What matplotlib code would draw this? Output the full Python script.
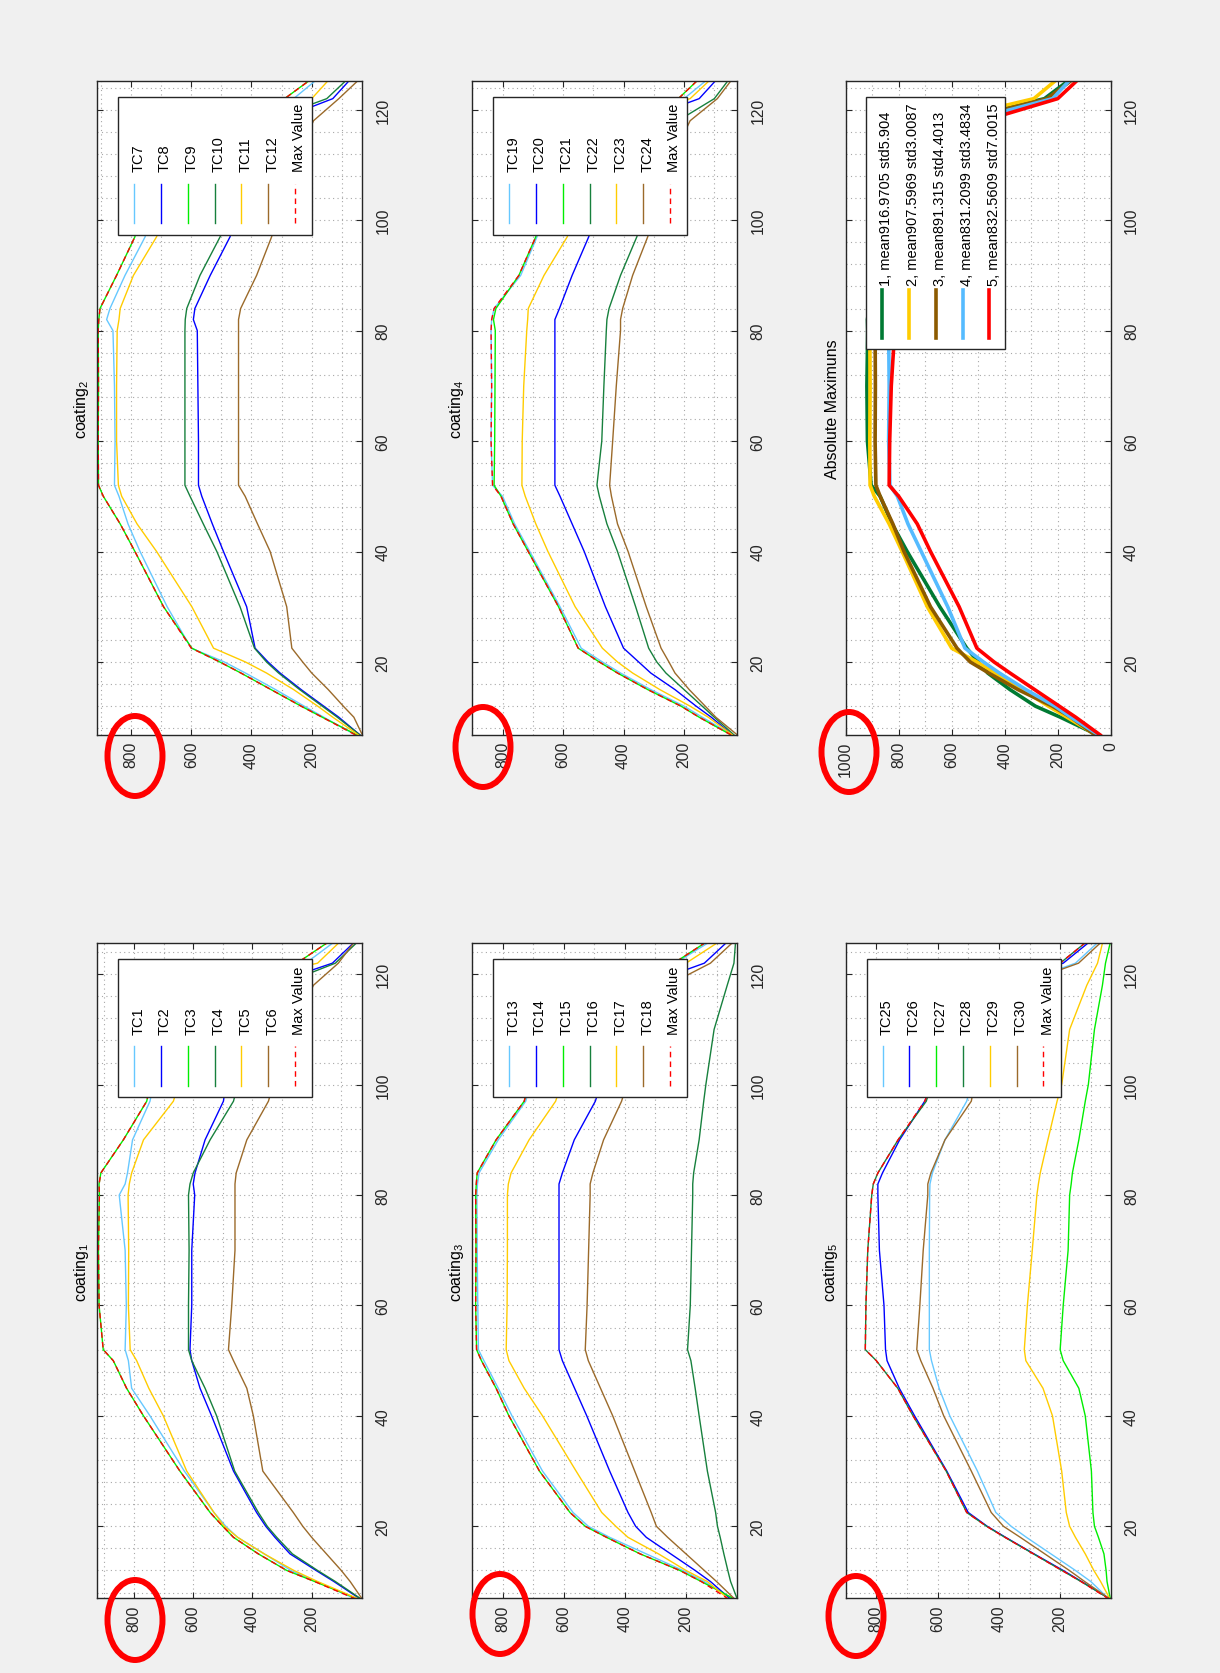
import numpy as np
import matplotlib
matplotlib.use("Agg")
import matplotlib.pyplot as plt
from matplotlib.patches import Ellipse, Rectangle

plt.rcParams['font.family'] = ['Liberation Sans', 'DejaVu Sans']
plt.rcParams['mathtext.default'] = 'regular'

W, H = 1220, 1674

# time (min), shared by every thermocouple trace
t = [6.8, 10, 12, 15, 18, 20, 22.5, 30, 40, 45, 50, 52, 60, 70, 80, 82, 84, 90, 97, 100, 110, 118, 122, 125.6]

# coating 1
tc1 = [50, 185, 270, 360, 450, 490, 530, 630, 746, 808, 819, 830, 826, 830, 850, 830, 822, 805, 746, 735, 670, 600, 220, 130]
tc2 = [35, 125, 185, 273, 324, 355, 386, 464, 538, 577, 605, 611, 605, 605, 595, 600, 594, 560, 498, 490, 420, 350, 130, 60]
tc3 = [42, 190, 284, 380, 464, 500, 543, 645, 768, 825, 870, 904, 918, 920, 917, 918, 912, 836, 757, 745, 680, 600, 250, 150]
tc4 = [32, 120, 180, 265, 318, 350, 380, 460, 521, 560, 605, 616, 616, 614, 616, 611, 600, 543, 464, 450, 380, 310, 120, 50]
tc5 = [40, 180, 260, 360, 450, 495, 530, 622, 701, 750, 791, 813, 819, 818, 820, 816, 808, 768, 667, 650, 580, 510, 180, 110]
tc6 = [29, 70, 100, 150, 200, 230, 262, 365, 397, 419, 464, 481, 470, 459, 459, 459, 455, 419, 346, 330, 265, 194, 110, 59]

# coating 2
tc7 = [55, 160, 225, 320, 420, 490, 600, 680, 770, 810, 840, 855, 853, 855, 860, 881, 870, 820, 753, 748, 690, 620, 260, 180]
tc8 = [40, 110, 160, 235, 305, 345, 388, 416, 493, 530, 565, 576, 576, 578, 580, 593, 588, 537, 471, 460, 390, 320, 130, 70]
tc9 = [50, 165, 235, 335, 435, 505, 598, 692, 787, 836, 892, 908, 909, 908, 909, 907, 903, 848, 787, 781, 720, 640, 290, 200]
tc10 = [40, 115, 165, 240, 310, 350, 390, 438, 515, 560, 604, 621, 621, 621, 621, 620, 615, 571, 504, 490, 420, 350, 150, 80]
tc11 = [45, 130, 180, 260, 350, 420, 526, 598, 715, 780, 831, 842, 848, 848, 846, 840, 836, 792, 715, 700, 620, 560, 200, 140]
tc12 = [32, 60, 95, 145, 200, 230, 266, 283, 338, 380, 421, 443, 443, 443, 443, 443, 436, 383, 333, 320, 260, 194, 110, 40]

# coating 3
tc13 = [45, 140, 210, 330, 450, 520, 570, 670, 770, 815, 862, 880, 882, 884, 885, 883, 878, 815, 725, 710, 635, 565, 235, 130]
tc14 = [54, 120, 170, 250, 330, 365, 390, 450, 525, 565, 605, 616, 616, 616, 616, 616, 605, 566, 497, 480, 410, 340, 140, 70]
tc15 = [40, 150, 220, 350, 460, 530, 580, 680, 780, 822, 870, 886, 889, 888, 889, 887, 884, 822, 730, 715, 640, 570, 240, 140]
tc16 = [32, 54, 63, 76, 88, 97, 103, 130, 157, 170, 184, 195, 186, 182, 178, 178, 175, 157, 142, 135, 108, 65, 43, 38]
tc17 = [60, 130, 200, 290, 390, 430, 476, 560, 670, 730, 780, 789, 786, 785, 785, 782, 773, 714, 627, 610, 540, 470, 200, 100]
tc18 = [40, 100, 140, 200, 260, 297, 314, 368, 440, 480, 520, 530, 524, 519, 514, 514, 505, 470, 411, 395, 330, 260, 120, 50]

# coating 4
tc19 = [40, 140, 200, 310, 410, 470, 540, 610, 710, 760, 800, 833, 838, 836, 838, 836, 828, 740, 686, 675, 595, 535, 200, 120]
tc20 = [40, 110, 160, 230, 310, 350, 400, 460, 530, 570, 610, 627, 627, 627, 627, 627, 612, 570, 515, 498, 420, 350, 150, 90]
tc21 = [45, 150, 210, 320, 420, 480, 550, 615, 715, 765, 805, 828, 826, 825, 824, 830, 822, 746, 690, 680, 600, 540, 219, 150]
tc22 = [35, 100, 140, 200, 260, 290, 317, 360, 420, 455, 480, 488, 472, 465, 457, 455, 448, 410, 356, 340, 280, 220, 100, 50]
tc23 = [40, 120, 180, 280, 370, 420, 470, 560, 650, 690, 725, 736, 735, 730, 720, 717, 715, 663, 586, 570, 500, 440, 180, 110]
tc24 = [24, 95, 130, 183, 230, 250, 276, 325, 385, 420, 440, 446, 436, 424, 410, 410, 403, 370, 320, 305, 250, 180, 90, 40]

# coating 5
tc25 = [40, 100, 150, 230, 310, 360, 410, 470, 560, 595, 620, 627, 627, 627, 626, 625, 617, 576, 505, 490, 420, 350, 150, 80]
tc26 = [37, 130, 190, 285, 378, 438, 500, 570, 675, 725, 765, 770, 775, 790, 795, 795, 780, 724, 642, 620, 545, 470, 190, 110]
tc27 = [36, 47, 50, 57, 75, 88, 93, 98, 118, 139, 190, 200, 190, 174, 169, 164, 160, 139, 118, 108, 88, 62, 52, 37]
tc28 = [37, 132, 194, 287, 380, 440, 505, 572, 680, 730, 800, 836, 834, 828, 815, 810, 795, 729, 637, 620, 550, 480, 200, 120]
tc29 = [37, 68, 90, 118, 150, 169, 180, 195, 225, 256, 312, 317, 307, 291, 276, 271, 265, 240, 210, 195, 169, 113, 78, 62]
tc30 = [37, 120, 170, 250, 330, 385, 425, 490, 580, 615, 655, 668, 658, 647, 632, 632, 622, 576, 490, 480, 410, 340, 140, 70]

coatings = [
    [tc1, tc2, tc3, tc4, tc5, tc6],
    [tc7, tc8, tc9, tc10, tc11, tc12],
    [tc13, tc14, tc15, tc16, tc17, tc18],
    [tc19, tc20, tc21, tc22, tc23, tc24],
    [tc25, tc26, tc27, tc28, tc29, tc30],
]
abs_labels = ['1, mean916.9705 std5.904', '2, mean907.5969 std3.0087',
              '3, mean891.315 std4.4013', '4, mean831.2099 std3.4834',
              '5, mean832.5609 std7.0015']

tc_colors = ['#66c8ff', '#0000ff', '#00ee00', '#17803d', '#ffcc00', '#9b6a2a']
abs_colors = ['#007a33', '#ffcc00', '#8c5a00', '#55bbff', '#ff0000']
dark = '#262626'

# panel boxes in pixels (left, top, right, bottom) of the rotated page
top_row = (81.7, 736.0)
bot_row = (944.3, 1599.3)
cols = [(97.3, 362.3), (472.3, 737.3), (845.7, 1110.7)]
panels = {
    0: (cols[0], bot_row), 1: (cols[0], top_row),
    2: (cols[1], bot_row), 3: (cols[1], top_row),
    4: (cols[2], bot_row), 5: (cols[2], top_row),
}
vlims = [(29, 924), (32, 912), (32, 890), (24, 845), (35, 845), (0, 1000)]
tlims = {True: (6.78, 125.25), False: (6.96, 125.6)}

fig = plt.figure(figsize=(W / 100, H / 100), dpi=100, facecolor='#f0f0f0')


def px_box(xr, yr):
    l, r = xr
    tp, b = yr
    return [l / W, 1 - b / H, (r - l) / W, (b - tp) / H]


def setup(ax, vlim, tlim, vticks):
    ax.set_xlim(vlim[1], vlim[0])
    ax.set_ylim(*tlim)
    ax.set_xticks(vticks, labels=[str(v) for v in vticks], rotation=90, ha='center', va='top')
    ax.set_xticks(np.arange(100, 1000, 200), minor=True)
    ax.set_yticks([20, 40, 60, 80, 100, 120], labels=['20', '40', '60', '80', '100', '120'],
                  rotation=90, va='center', ha='left')
    ax.set_yticks([8, 12, 16, 24, 28, 32, 36, 44, 48, 52, 56, 64, 68, 72, 76, 84, 88, 92, 96,
                   104, 108, 112, 116, 124], minor=True)
    ax.yaxis.tick_right()
    ax.grid(which='both', linestyle=(0, (1, 3)), color='#a8a8a8', lw=0.8)
    ax.tick_params(which='major', direction='in', length=4.5, width=0.8, color=dark,
                   top=True, bottom=True, left=True, right=True,
                   labelbottom=True, labelleft=False, labelright=True, labelsize=11.3,
                   labelcolor=dark)
    ax.tick_params(which='minor', length=0)
    ax.tick_params(axis='x', pad=4.3)
    ax.tick_params(axis='y', pad=9.5)
    for s in ax.spines.values():
        s.set_color(dark)
        s.set_linewidth(1.0)
    ax.set_facecolor('white')


axes = []
for i in range(6):
    xr, yr = panels[i]
    ax = fig.add_axes(px_box(xr, yr))
    is_top = yr == top_row
    vticks = [0, 200, 400, 600, 800, 1000] if i == 5 else [200, 400, 600, 800]
    setup(ax, vlims[i], tlims[is_top], vticks)
    axes.append(ax)

# coating panels
for i, tcs in enumerate(coatings):
    ax = axes[i]
    for tc, c in zip(tcs, tc_colors):
        ax.plot(tc, t, color=c, lw=1.0)
    ax.plot(np.max(tcs, axis=0), t, color='#ff0000', lw=1.0, ls=(0, (4, 3)))

# absolute maximums
for tcs, c in zip(coatings, abs_colors):
    axes[5].plot(np.max(tcs, axis=0), t, color=c, lw=2.6)

# overlay in page pixels for titles, legends, annotations
ov = fig.add_axes([0, 0, 1, 1], zorder=10)
ov.set_xlim(0, W)
ov.set_ylim(H, 0)
ov.axis('off')
ov.patch.set_alpha(0)

titles = ['coating$_1$', 'coating$_2$', 'coating$_3$', 'coating$_4$', 'coating$_5$', 'Absolute Maximuns']
for i in range(6):
    (l, r), (tp, b) = panels[i]
    ov.text(l - 6, (tp + b) / 2, titles[i], rotation=90, ha='right', va='center',
            fontsize=11.5, color='black')


def draw_legend(left, top, width, height, labels, colors, styles, lws, line_y, text_y):
    ov.add_patch(Rectangle((left, top), width, height, facecolor='white',
                           edgecolor=dark, lw=1.0, zorder=3))
    for k, (lab, c, ls, lw) in enumerate(zip(labels, colors, styles, lws)):
        x = left + 15.8 + 26.8 * k
        ov.plot([x, x], [top + line_y[0], top + line_y[1]], color=c, ls=ls, lw=lw, zorder=4)
        ov.text(x + 4.2, top + text_y, lab, rotation=90, ha='center', va='bottom',
                fontsize=10.5, color='black', zorder=5)


for i in range(5):
    (l, r), (tp, b) = panels[i]
    labels = ['TC%d' % (6 * i + k + 1) for k in range(6)] + ['Max Value']
    colors = tc_colors + ['#ff0000']
    styles = ['-'] * 6 + [(0, (4, 3))]
    draw_legend(l + 21, tp + 16, 194, 138, labels, colors, styles, [1.0] * 7,
                (126.6, 86.8), 74.4)

(l, r), (tp, b) = panels[5]
draw_legend(l + 20.6, tp + 16, 138.7, 252.3, abs_labels, abs_colors, ['-'] * 5, [2.6] * 5,
            (240.8, 193.6), 188.7)

# red circles drawn around the top value labels
circles = [(135, 757), (483, 748), (849, 753), (135, 1621), (500, 1615), (856, 1617)]
for cx, cy in circles:
    ov.add_patch(Ellipse((cx, cy), 55, 80, fill=False, edgecolor='#ff0000', lw=4.3, zorder=6))

fig.savefig('out.png', dpi=100, facecolor=fig.get_facecolor())
